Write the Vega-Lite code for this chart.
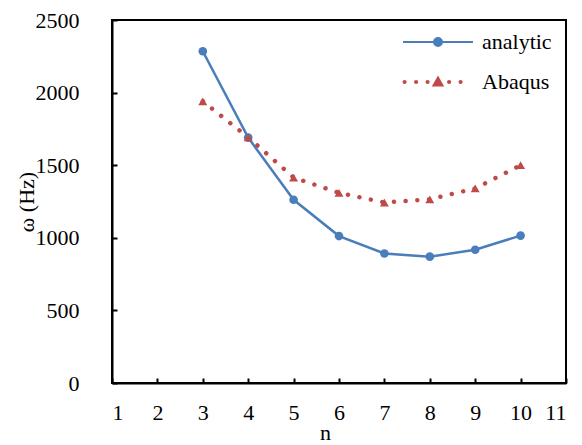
{
  "$schema": "https://vega.github.io/schema/vega-lite/v6.json",
  "width": 454,
  "height": 363,
  "autosize": "none",
  "padding": {"left": 112, "top": 20, "right": 16, "bottom": 62},
  "background": "white",
  "config": {
    "view": {"stroke": "black", "strokeWidth": 2},
    "font": "Liberation Serif",
    "axis": {
      "grid": false,
      "domainColor": "black",
      "domainWidth": 2,
      "tickColor": "black",
      "tickWidth": 2,
      "tickSize": -5,
      "labelFont": "Liberation Serif",
      "labelFontSize": 22,
      "labelColor": "black",
      "titleFont": "Liberation Serif",
      "titleFontSize": 22,
      "titleFontWeight": "normal",
      "titleColor": "black"
    },
    "legend": {"labelFont": "Liberation Serif"}
  },
  "data": {
    "values": [
      {"n": 3, "series": "analytic", "omega": 2285},
      {"n": 4, "series": "analytic", "omega": 1690},
      {"n": 5, "series": "analytic", "omega": 1262},
      {"n": 6, "series": "analytic", "omega": 1012},
      {"n": 7, "series": "analytic", "omega": 892},
      {"n": 8, "series": "analytic", "omega": 870},
      {"n": 9, "series": "analytic", "omega": 918},
      {"n": 10, "series": "analytic", "omega": 1015},
      {"n": 3, "series": "Abaqus", "omega": 1940},
      {"n": 4, "series": "Abaqus", "omega": 1692},
      {"n": 5, "series": "Abaqus", "omega": 1415},
      {"n": 6, "series": "Abaqus", "omega": 1310},
      {"n": 7, "series": "Abaqus", "omega": 1243},
      {"n": 8, "series": "Abaqus", "omega": 1265},
      {"n": 9, "series": "Abaqus", "omega": 1340},
      {"n": 10, "series": "Abaqus", "omega": 1500}
    ]
  },
  "encoding": {
    "x": {
      "field": "n",
      "type": "quantitative",
      "scale": {"domain": [1, 11], "nice": false, "zero": false},
      "axis": {"values": [1, 2, 3, 4, 5, 6, 7, 8, 9, 10, 11], "format": "d", "title": "n", "labelFont": "Liberation Serif", "labelFontSize": 22, "labelPadding": 24, "titleX": 213, "titlePadding": -1}
    },
    "y": {
      "field": "omega",
      "type": "quantitative",
      "scale": {"domain": [0, 2500], "nice": false},
      "axis": {"values": [0, 500, 1000, 1500, 2000, 2500], "format": "d", "title": "ω (Hz)", "labelFont": "Liberation Serif", "labelFontSize": 22, "labelPadding": 38, "titlePadding": -3}
    }
  },
  "layer": [
    {
      "transform": [{"filter": "datum.series === 'Abaqus'"}],
      "mark": {"type": "line", "color": "#BE4B48", "strokeWidth": 4.5, "strokeCap": "round", "strokeDash": [0.01, 11.7]}
    },
    {
      "transform": [{"filter": "datum.series === 'analytic'"}],
      "mark": {"type": "line", "color": "#4A7EBB", "strokeWidth": 2.5}
    },
    {
      "transform": [{"filter": "datum.series === 'analytic'"}],
      "mark": {"type": "point", "shape": "circle", "filled": true, "color": "#4A7EBB", "size": 75, "opacity": 1}
    },
    {
      "transform": [{"filter": "datum.series === 'Abaqus'"}],
      "mark": {"type": "point", "shape": "triangle-up", "filled": true, "color": "#BE4B48", "size": 80, "opacity": 1}
    },
    {
      "mark": {"type": "point", "filled": true, "opacity": 0},
      "encoding": {
        "fill": {"field": "series", "type": "nominal", "scale": {"domain": ["analytic", "Abaqus"], "range": ["#4A7EBB", "#BE4B48"]}, "legend": null},
        "stroke": {"field": "series", "type": "nominal", "scale": {"domain": ["analytic", "Abaqus"], "range": ["#4A7EBB", "#BE4B48"]}, "legend": null},
        "shape": {
          "field": "series",
          "type": "nominal",
          "scale": {"domain": ["analytic", "Abaqus"], "range": [
            "M-3.5,0H3.5M-0.4,0A0.4,0.4 0 1,0 0.4,0A0.4,0.4 0 1,0 -0.4,0Z",
            "M-3.45,0A0.11,0.11 0 1,0 -3.23,0A0.11,0.11 0 1,0 -3.45,0ZM-2.3,0A0.11,0.11 0 1,0 -2.08,0A0.11,0.11 0 1,0 -2.3,0ZM-1.15,0A0.11,0.11 0 1,0 -0.93,0A0.11,0.11 0 1,0 -1.15,0ZM1.0,0A0.11,0.11 0 1,0 1.22,0A0.11,0.11 0 1,0 1.0,0ZM2.15,0A0.11,0.11 0 1,0 2.37,0A0.11,0.11 0 1,0 2.15,0ZM-0.45,0.35L0.45,0.35L0,-0.45Z"
          ]},
          "legend": {
            "title": null,
            "orient": "none",
            "legendX": 315,
            "legendY": 11,
            "padding": 0,
            "symbolSize": 400,
            "symbolOpacity": 1,
            "symbolStrokeWidth": 2,
            "labelFont": "Liberation Serif",
            "labelFontSize": 22,
            "labelColor": "black",
            "labelOffset": 33,
            "rowPadding": 18
          }
        }
      }
    }
  ]
}
